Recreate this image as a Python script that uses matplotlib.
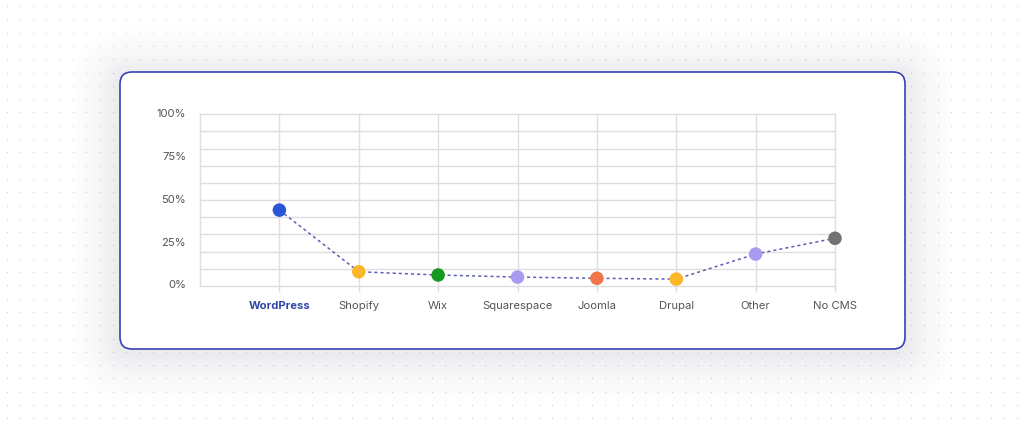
import numpy as np
import matplotlib
matplotlib.use("Agg")
import matplotlib.pyplot as plt
from matplotlib.patches import FancyBboxPatch
from matplotlib.transforms import ScaledTranslation

# ---- data ----
categories = ["WordPress", "Shopify", "Wix", "Squarespace", "Joomla", "Drupal", "Other", "No CMS"]
values = [44.2, 8.3, 6.4, 5.2, 4.5, 4.0, 18.6, 27.8]
point_colors = ["#2a55d6", "#fbb62a", "#149a22", "#a89cf2", "#f2744a", "#fbb62a", "#a89cf2", "#727272"]
ytick_values = [0, 25, 50, 75, 100]
ytick_labels = ["0%", "25%", "50%", "75%", "100%"]
grid_values = [0, 10, 20, 30, 40, 50, 60, 70, 80, 90, 100]

plt.rcParams['font.family'] = ['Inter', 'DejaVu Sans']

W, H = 1024, 421
fig = plt.figure(figsize=(W / 100, H / 100), dpi=100)
fig.patch.set_facecolor("white")

# ---- background (pixel coordinates) ----
bg = fig.add_axes([0, 0, 1, 1])
bg.set_xlim(0, W)
bg.set_ylim(H, 0)
bg.axis("off")

xs, ys = np.meshgrid(np.arange(6.5, W, 13.3), np.arange(6, H, 13.3))
bg.scatter(xs.ravel(), ys.ravel(), s=0.9, color="#d3d4e0", linewidths=0, zorder=0)

card_x0, card_y0, card_x1, card_y1 = 120, 72, 905, 349
# soft shadow
for i, a in enumerate(np.linspace(0.016, 0.002, 14)):
    grow = 3 + i * 3.5
    bg.add_patch(FancyBboxPatch((card_x0 - grow, card_y0 - grow + 4),
                                card_x1 - card_x0 + 2 * grow, card_y1 - card_y0 + 2 * grow,
                                boxstyle=f"round,pad=0,rounding_size={12 + grow}",
                                facecolor="#9a9eb8", edgecolor="none", alpha=a, zorder=1))
bg.add_patch(FancyBboxPatch((card_x0, card_y0), card_x1 - card_x0, card_y1 - card_y0,
                            boxstyle="round,pad=0,rounding_size=12",
                            facecolor="white", edgecolor="#3a3fb6", linewidth=1.2, zorder=2))

# ---- chart axes ----
left_px, right_px = 200, 835
top_px, bottom_px = 114.3, 286
ax = fig.add_axes([left_px / W, (H - bottom_px) / H,
                   (right_px - left_px) / W, (bottom_px - top_px) / H])
ax.set_facecolor("none")
ax.set_zorder(5)

x = np.arange(len(categories))
ax.plot(x, values, linestyle=(0, (2, 2)), color="#5a5fb2", linewidth=1.1, zorder=3, clip_on=False)
ax.scatter(x, values, s=95, c=point_colors, zorder=4, linewidths=0, clip_on=False)

ax.set_xlim(-1, len(categories) - 1)
ax.set_ylim(0, 100)

grid_c = "#dedee2"
for gv in grid_values:
    ax.axhline(gv, color=grid_c, linewidth=1.0, zorder=1, clip_on=False)
ax.set_yticks(ytick_values)
ax.set_yticklabels(ytick_labels)

ax.set_xticks(x)
ax.set_xticklabels(categories)
for xi in x:
    ax.axvline(xi, color=grid_c, linewidth=1.0, zorder=1, clip_on=False)

for s in ["top", "right", "bottom"]:
    ax.spines[s].set_visible(False)
ax.spines["left"].set_color(grid_c)
ax.spines["left"].set_linewidth(1.0)

ax.tick_params(axis="y", which="both", length=0, pad=10, labelsize=8.1, labelcolor="#555555")
ax.tick_params(axis="x", length=4, width=1.0, color=grid_c, pad=6.5, labelsize=8.1, labelcolor="#555555")
shift = ScaledTranslation(0, 1.5 / 100, fig.dpi_scale_trans)
for lbl in ax.get_yticklabels():
    lbl.set_transform(lbl.get_transform() + shift)
for lbl in ax.get_xticklabels():
    if lbl.get_text() == "WordPress":
        lbl.set_color("#2f47a8")
        lbl.set_fontweight("bold")

fig.savefig("out.png", dpi=100, facecolor="white")
